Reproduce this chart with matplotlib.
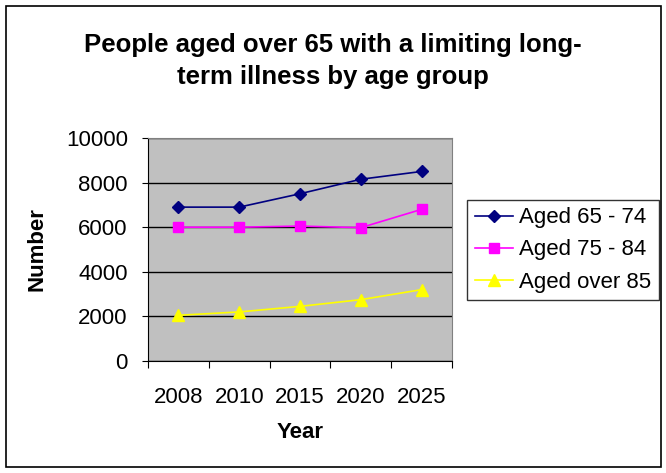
import matplotlib
matplotlib.use('Agg')
import matplotlib.pyplot as plt
from matplotlib.patches import Rectangle
import numpy as np

years = ['2008', '2010', '2015', '2020', '2025']
aged_65_74 = [6900, 6900, 7500, 8150, 8500]
aged_75_84 = [6000, 6000, 6050, 5980, 6800]
aged_over_85 = [2050, 2200, 2450, 2750, 3200]

plt.rcParams['font.family'] = ['Liberation Sans', 'DejaVu Sans']

fig = plt.figure(figsize=(6.66, 4.73), dpi=100)
fig.patches.append(Rectangle((6 / 666, 6 / 473), 655 / 666, 461 / 473,
                             transform=fig.transFigure, fill=False,
                             edgecolor='black', linewidth=1.2))

ax = fig.add_axes([148 / 666, 112 / 473, 304 / 666, 223 / 473])
ax.set_facecolor('#C0C0C0')

x = np.arange(len(years))
ax.plot(x, aged_65_74, color='#000080', marker='D', markersize=6, linewidth=1.2, label='Aged 65 - 74')
ax.plot(x, aged_75_84, color='#FF00FF', marker='s', markersize=6.5, linewidth=1.2, label='Aged 75 - 84')
ax.plot(x, aged_over_85, color='#FFFF00', marker='^', markersize=8, linewidth=1.2, label='Aged over 85')

ax.set_xlim(-0.5, len(years) - 0.5)
ax.set_ylim(0, 10000)
ax.set_yticks(np.arange(0, 10001, 2000))
ax.yaxis.grid(True, color='black', linewidth=1)
ax.set_axisbelow(True)

ax.set_xticks(np.arange(-0.5, len(years), 1))
ax.set_xticklabels([])
ax.set_xticks(x, minor=True)
ax.set_xticklabels(years, minor=True)
ax.tick_params(axis='x', which='minor', length=0, pad=18.5, labelsize=16)
ax.tick_params(axis='x', which='major', length=5, direction='out', color='black')
ax.tick_params(axis='y', length=4.5, direction='out', labelsize=16, pad=10)

for side in ['top', 'right']:
    ax.spines[side].set_color('#808080')
for side in ['left', 'bottom']:
    ax.spines[side].set_color('black')

ax.set_xlabel('Year', fontsize=16, fontweight='bold', labelpad=10)
ax.set_ylabel('Number', fontsize=16, fontweight='bold', labelpad=13)

fig.text(0.5, 0.871, 'People aged over 65 with a limiting long-\nterm illness by age group',
         ha='center', va='center', fontsize=18.5, fontweight='bold', linespacing=1.4)

leg = ax.legend(loc='center left', bbox_to_anchor=(467 / 666, (473 - 250) / 473),
                bbox_transform=fig.transFigure, fontsize=16, frameon=True,
                fancybox=False, edgecolor='black', handlelength=1.7,
                borderpad=0.35, labelspacing=0.5, handletextpad=0.3,
                borderaxespad=0)
leg.get_frame().set_linewidth(1)

fig.savefig('out.png', dpi=100)
